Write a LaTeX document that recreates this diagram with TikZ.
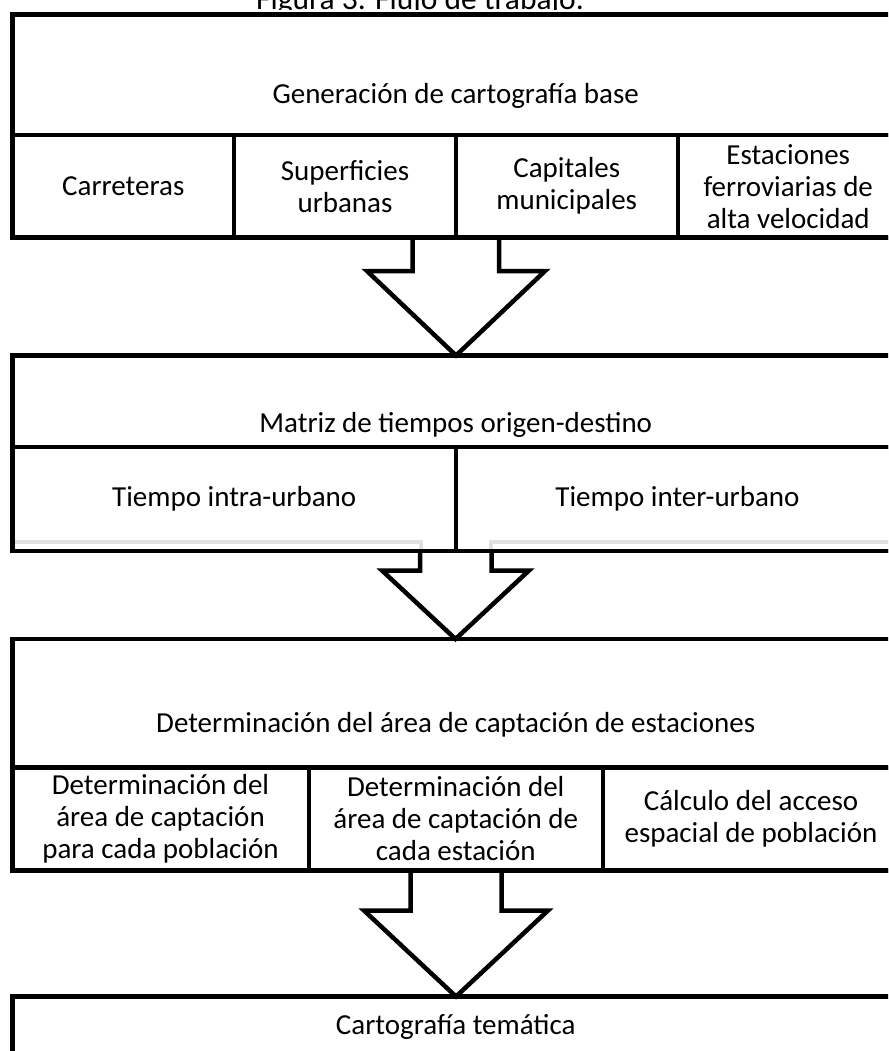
\documentclass[tikz,border=0pt]{standalone}
\usepackage{fontspec}
\setmainfont{Carlito}
\usetikzlibrary{fit}
\begin{document}
\begin{tikzpicture}[x=1pt,y=-1pt,
  frame/.style={draw=black, line width=4.5pt, inner sep=0pt, line join=miter},
  cell/.style={draw=black, line width=4pt, inner sep=0pt},
  txt/.style={inner sep=0pt, align=center, font=\fontsize{29}{32}\selectfont},
  blockarrow/.style={draw=black, line width=4.5pt, line join=miter, miter limit=10},
  shade/.style={draw=black!12, line width=4pt}]
\useasboundingbox (0,0) rectangle (888,1051);
\clip (0,0) rectangle (888,1051);

% title (cut by the top edge)
\begin{scope}
  \clip (0,0) rectangle (888,9.5);
  \node[txt, anchor=base, font=\fontsize{31.5}{36}\selectfont] (title) at (420,9.5) {Figura 3. Flujo de trabajo.};
\end{scope}

% ---------- Box 1 ----------
\node[frame, fit={(12.5,14.5)(899,135)}] (h1) {};
\node[txt, anchor=base] (t1) at (455.7,104) {Generación de cartografía base};
\node[cell, fit={(12.5,135)(234,237.5)}] (c11) {};
\node[txt] at (c11.center) {Carreteras};
\node[cell, fit={(234,135)(456,237.5)}] (c12) {};
\node[txt] at (c12.center) {Superficies\\urbanas};
\node[cell, fit={(456,135)(677.5,237.5)}] (c13) {};
\node[txt] at (c13.center) {Capitales\\municipales};
\node[cell, fit={(677.5,135)(899,237.5)}] (c14) {};
\node[txt] at (c14.center) {Estaciones\\ferroviarias de\\alta velocidad};
\draw[frame] (12.5,14.5) -- (12.5,237.5) -- (899,237.5);

% ---------- Box 2 ----------
\draw[shade] (14,541.5) -- (421,541.5) -- (421,551);
\draw[shade] (491,551) -- (491,541.5) -- (899,541.5);
\node[frame, fit={(12.5,355.5)(899,447)}] (h2) {};
\node[txt, anchor=base] (t2) at (455.7,432) {Matriz de tiempos origen-destino};
\node[cell, fit={(12.5,447)(456,551)}] (c21) {};
\node[txt] at (c21.center) {Tiempo intra-urbano};
\node[cell, fit={(456,447)(899,551)}] (c22) {};
\node[txt] at (c22.center) {Tiempo inter-urbano};
\draw[frame] (12.5,355.5) -- (12.5,551) -- (899,551);

% ---------- Box 3 ----------
\node[frame, fit={(12.5,639)(899,767.5)}] (h3) {};
\node[txt, anchor=base] (t3) at (455.7,732) {Determinación del área de captación de estaciones};
\node[cell, fit={(12.5,767.5)(308.5,870.5)}] (c31) {};
\node[txt] at (c31.center) {Determinación del\\área de captación\\para cada población};
\node[cell, fit={(308.5,767.5)(603,870.5)}] (c32) {};
\node[txt] at (c32.center) {Determinación del\\área de captación de\\cada estación};
\node[cell, fit={(603,767.5)(899,870.5)}] (c33) {};
\node[txt] at (c33.center) {Cálculo del acceso\\espacial de población};
\draw[frame] (12.5,639) -- (12.5,870.5) -- (899,870.5);

% ---------- Box 4 ----------
\node[frame, fit={(12.5,996.5)(899,1090)}] (h4) {};
\node[txt, anchor=base] (t4) at (455.7,1034) {Cartografía temática};

% ---------- block arrows ----------
\draw[blockarrow] (412.5,237.5) -- (412.5,271) -- (367,271) -- (456,355.5)
  -- (545,271) -- (499,271) -- (499,237.5);
\draw[blockarrow] (420,551) -- (420,570.5) -- (382,570.5) -- (455.5,639)
  -- (529,570.5) -- (491.5,570.5) -- (491.5,551);
\draw[blockarrow] (410.5,870.5) -- (410.5,910.5) -- (364,910.5) -- (456,996.5)
  -- (548,910.5) -- (501.5,910.5) -- (501.5,870.5);
\end{tikzpicture}
\end{document}
